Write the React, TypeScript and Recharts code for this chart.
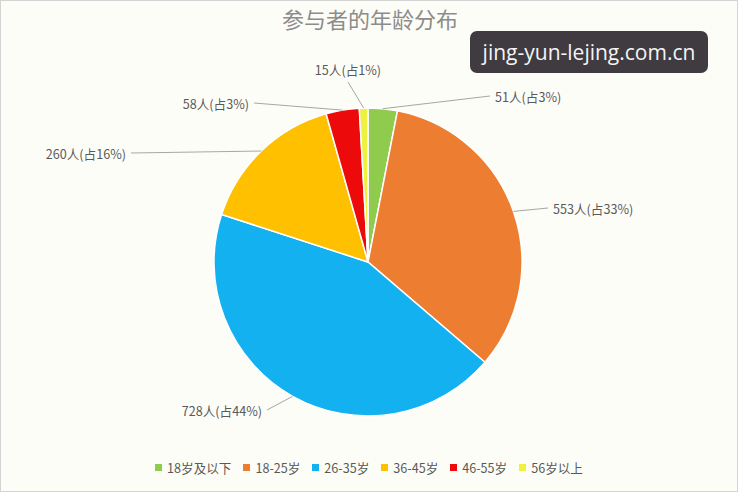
import React from "react";
import { PieChart, Pie, Cell, Legend } from "recharts";

const categories = ["18岁及以下", "18-25岁", "26-35岁", "36-45岁", "46-55岁", "56岁以上"];
const counts = [51, 553, 728, 260, 58, 15];
const percentLabels = ["3%", "33%", "44%", "16%", "3%", "1%"];
const colors = ["#8fcb4c", "#ed7d31", "#14b1f0", "#ffc000", "#ec0a0a", "#eef23e"];

// label placement relative to pie centre (layout only)
const labelOffsets: [number, number, "start" | "end" | "middle"][] = [
  [127, -166, "start"],
  [185, -54, "start"],
  [-106, 148, "end"],
  [-242, -109, "end"],
  [-119, -159, "end"],
  [-20, -189, "middle"],
];

const data = categories.map((name, i) => ({ name, value: counts[i], pct: percentLabels[i] }));

const FONT = "'Noto Sans CJK SC', 'Noto Sans', sans-serif";
const RAD = Math.PI / 180;

const renderLabel = (props: any) => {
  const { cx, cy, midAngle, outerRadius, index } = props;
  const ex = cx + outerRadius * Math.cos(-midAngle * RAD);
  const ey = cy + outerRadius * Math.sin(-midAngle * RAD);
  const [dx, dy, anchor] = labelOffsets[index];
  const tx = cx + dx;
  const ty = cy + dy;
  let lx = tx;
  let ly = ty;
  if (anchor === "start") lx = tx - 5;
  else if (anchor === "end") lx = tx + 5;
  else ly = ty + 9;
  const d = data[index];
  return (
    <g key={`lbl-${index}`}>
      <line x1={ex} y1={ey} x2={lx} y2={ly} stroke="#a6a6a6" strokeWidth={1} />
      <text
        x={tx}
        y={anchor === "middle" ? ty - 4 : ty}
        textAnchor={anchor}
        dominantBaseline="central"
        fill="#595959"
        fontSize={12.6}
        fontFamily={FONT}
      >
        {`${d.value}人(占${d.pct})`}
      </text>
    </g>
  );
};

const renderLegend = () => (
  <div
    style={{
      display: "flex",
      justifyContent: "center",
      alignItems: "center",
      fontFamily: FONT,
      fontSize: 12.6,
      color: "#595959",
    }}
  >
    {categories.map((c, i) => (
      <span
        key={c}
        style={{
          display: "inline-flex",
          alignItems: "center",
          marginRight: i === categories.length - 1 ? 0 : 12,
        }}
      >
        <span
          style={{
            display: "inline-block",
            width: 7,
            height: 7,
            background: colors[i],
            marginRight: 5,
          }}
        />
        {c}
      </span>
    ))}
  </div>
);

export default function App() {
  return (
    <div
      style={{
        position: "absolute",
        left: 0,
        top: 0,
        width: 738,
        height: 492,
        background: "#fdfdf8",
        boxSizing: "border-box",
        border: "1px solid #d4d4d4",
        overflow: "hidden",
      }}
    >
      <div
        style={{
          position: "absolute",
          left: 0,
          top: 1,
          width: 738,
          textAlign: "center",
          fontFamily: FONT,
          fontSize: 22,
          color: "#8c8c8c",
        }}
      >
        参与者的年龄分布
      </div>
      <PieChart width={736} height={490} margin={{ top: 0, right: 0, bottom: 0, left: 0 }}>
        <Pie
          data={data}
          dataKey="value"
          nameKey="name"
          cx={367}
          cy={261}
          outerRadius={154}
          startAngle={90}
          endAngle={-270}
          stroke="#ffffff"
          strokeWidth={1.5}
          label={renderLabel}
          labelLine={false}
          isAnimationActive={false}
        >
          {data.map((d, i) => (
            <Cell key={d.name} fill={colors[i]} />
          ))}
        </Pie>
        <Legend verticalAlign="bottom" wrapperStyle={{ bottom: 14 }} content={renderLegend} />
      </PieChart>
      <div
        style={{
          position: "absolute",
          left: 469,
          top: 30,
          width: 238,
          height: 42,
          borderRadius: 7,
          background: "#3f3b40",
          color: "#f4f4f4",
          fontFamily: "'Open Sans', 'Noto Sans', sans-serif",
          fontSize: 21,
          lineHeight: "42px",
          textAlign: "center",
        }}
      >
        jing-yun-lejing.com.cn
      </div>
    </div>
  );
}
